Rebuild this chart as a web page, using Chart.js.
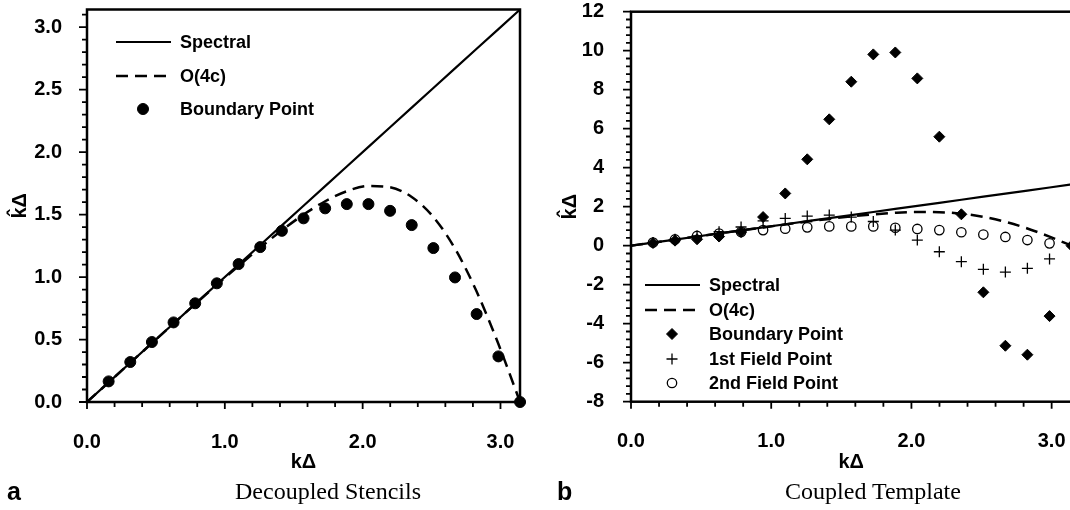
<!DOCTYPE html>
<html>
<head>
<meta charset="utf-8">
<script src="https://cdn.jsdelivr.net/npm/chart.js@4.4.0/dist/chart.umd.min.js"></script>
<style>
  body { margin: 0; width: 1070px; height: 510px; overflow: hidden; background: #fff; position: relative; }
  .wrap { position: absolute; top: 0; height: 510px; }
  #wrapA { left: 0; width: 540px; }
  #wrapB { left: 540px; width: 560px; }
  .tag { position: absolute; top: 479px; font: bold 25px "Liberation Sans", Arial, sans-serif; line-height: 24px; }
  .cap { position: absolute; top: 479px; width: 240px; text-align: center; font: 24px "Liberation Serif", "Times New Roman", serif; line-height: 24px; }
</style>
</head>
<body>
<div class="wrap" id="wrapA"><canvas id="chartA" width="540" height="510"></canvas></div>
<div class="wrap" id="wrapB"><canvas id="chartB" width="560" height="510"></canvas></div>
<div class="tag" style="left:7px">a</div>
<div class="cap" style="left:208px">Decoupled Stencils</div>
<div class="tag" style="left:557px">b</div>
<div class="cap" style="left:753px">Coupled Template</div>
<script>
// k*Delta sample points (x)
var kDelta = [0, 0.157, 0.314, 0.471, 0.628, 0.785, 0.942, 1.100, 1.257, 1.414, 1.571,
              1.728, 1.885, 2.042, 2.199, 2.356, 2.513, 2.670, 2.827, 2.985, 3.142];

var spectral = [0, 0.157, 0.314, 0.471, 0.628, 0.785, 0.942, 1.100, 1.257, 1.414, 1.571,
                1.728, 1.885, 2.042, 2.199, 2.356, 2.513, 2.670, 2.827, 2.985, 3.142];
var o4c = [0, 0.157, 0.314, 0.471, 0.628, 0.784, 0.938, 1.089, 1.236, 1.374, 1.500,
           1.607, 1.687, 1.729, 1.719, 1.641, 1.481, 1.228, 0.884, 0.464, 0];

// panel a
var boundaryA = [null, 0.165, 0.32, 0.48, 0.637, 0.79, 0.95, 1.104, 1.24, 1.37, 1.47,
                 1.55, 1.584, 1.584, 1.53, 1.416, 1.232, 0.997, 0.704, 0.365, 0];

// panel b
var boundaryB = [null, 0.14, 0.26, 0.33, 0.47, 0.7, 1.47, 2.68, 4.43, 6.48, 8.41,
                 9.81, 9.91, 8.58, 5.59, 1.61, -2.39, -5.13, -5.59, -3.61, 0];
var field1 = [null, 0.16, 0.33, 0.5, 0.72, 0.96, 1.27, 1.40, 1.52, 1.57, 1.47,
              1.24, 0.80, 0.29, -0.31, -0.82, -1.21, -1.35, -1.16, -0.68, null];
var field2 = [null, 0.16, 0.32, 0.50, 0.62, 0.70, 0.80, 0.87, 0.94, 0.99, 0.99,
              0.99, 0.92, 0.86, 0.80, 0.69, 0.57, 0.45, 0.29, 0.12, null];

var xTickLabels = ['0.0', '1.0', '2.0', '3.0'];
var yTickLabelsA = ['0.0', '0.5', '1.0', '1.5', '2.0', '2.5', '3.0'];
var yTickLabelsB = ['-8', '-6', '-4', '-2', '0', '2', '4', '6', '8', '10', '12'];

function pairs(ys) {
    var out = [];
    for (var i = 0; i < kDelta.length; i++) {
        if (ys[i] !== null) out.push({x: kDelta[i], y: ys[i]});
    }
    return out;
}

var SANS = '"Liberation Sans", "DejaVu Sans", Arial, sans-serif';

// frame + outward major/minor tick marks
const frameTicks = {
    id: 'frameTicks',
    beforeDatasetsDraw(chart, args, o) {
        const ctx = chart.ctx, a = chart.chartArea;
        const x = chart.scales.x, y = chart.scales.y;
        ctx.save();
        ctx.strokeStyle = '#000';
        ctx.lineWidth = 1.8;
        ctx.beginPath();
        for (let i = 0; x.min + i * o.xMinor <= x.max + 1e-6; i++) {
            const v = x.min + i * o.xMinor;
            const px = x.getPixelForValue(v);
            const r = v / o.xMajor;
            const len = Math.abs(r - Math.round(r)) < 1e-6 ? 7 : 5;
            ctx.moveTo(px, a.bottom);
            ctx.lineTo(px, a.bottom + len);
        }
        for (let i = 0; y.min + i * o.yMinor <= y.max + 1e-6; i++) {
            const v = y.min + i * o.yMinor;
            const py = y.getPixelForValue(v);
            const r = v / o.yMajor;
            const len = Math.abs(r - Math.round(r)) < 1e-6 ? 8 : 5;
            ctx.moveTo(a.left, py);
            ctx.lineTo(a.left - len, py);
        }
        ctx.stroke();
        ctx.lineWidth = 2.5;
        ctx.strokeRect(a.left, a.top, a.right - a.left, a.bottom - a.top);
        ctx.restore();
    }
};

// legend drawn inside the plot
const innerLegend = {
    id: 'innerLegend',
    afterDraw(chart, args, o) {
        const ctx = chart.ctx;
        ctx.save();
        ctx.font = 'bold 18px ' + SANS;
        ctx.textBaseline = 'middle';
        ctx.textAlign = 'left';
        chart.data.datasets.forEach(function (ds, i) {
            const yy = o.rows[i];
            ctx.strokeStyle = '#000';
            ctx.fillStyle = ds.pointBackgroundColor || '#000';
            if (ds.showLine) {
                ctx.lineWidth = ds.borderWidth;
                ctx.setLineDash(ds.borderDash || []);
                ctx.beginPath();
                ctx.moveTo(o.x1, yy);
                ctx.lineTo(o.x2, yy);
                ctx.stroke();
                ctx.setLineDash([]);
            } else {
                ctx.lineWidth = ds.borderWidth;
                Chart.helpers.drawPoint(ctx, {
                    pointStyle: ds.pointStyle, radius: ds.pointRadius,
                    rotation: 0, borderWidth: ds.borderWidth
                }, o.mx, yy);
            }
            ctx.fillStyle = '#000';
            ctx.fillText(ds.label, o.tx, yy + 1);
        });
        ctx.restore();
    }
};

function lineSet(label, ys, dashed) {
    return {
        label: label, data: pairs(ys), showLine: true, order: 2,
        borderColor: '#000', borderWidth: dashed ? 2.5 : 2.2,
        borderDash: dashed ? [12, 7] : [], pointRadius: 0,
        cubicInterpolationMode: dashed ? 'monotone' : 'default', clip: false
    };
}

function pointSet(label, ys, style, radius, filled, bw) {
    return {
        label: label, data: pairs(ys), showLine: false, order: 1,
        pointStyle: style, pointRadius: radius, pointHoverRadius: radius,
        pointBackgroundColor: filled ? '#000' : 'rgba(0,0,0,0)',
        pointBorderColor: '#000', borderColor: '#000', borderWidth: bw,
        pointBorderWidth: bw, clip: false
    };
}

function makeOptions(cfg) {
    return {
        responsive: false, animation: false, events: [],
        layout: {padding: {left: 0, right: cfg.padRight, top: cfg.padTop, bottom: 0}},
        plugins: {
            legend: {display: false}, tooltip: {enabled: false},
            frameTicks: cfg.ticks, innerLegend: cfg.legend
        },
        scales: {
            x: {
                type: 'linear', min: 0, max: Math.PI,
                grid: {display: false}, border: {display: false},
                afterFit: function (s) {
                    s.height = cfg.xHeight;
                    s.paddingLeft = 0; s.paddingRight = 0;
                },
                ticks: {
                    stepSize: 1, includeBounds: false, padding: 20, color: '#000',
                    font: {family: SANS, size: 20, weight: 'bold'},
                    callback: function (v) { return xTickLabels[Math.round(v)]; }
                },
                title: {
                    display: true, text: 'k\u0394', color: '#000',
                    font: {family: SANS, size: 20, weight: 'bold'},
                    padding: {top: 0, bottom: 36}
                }
            },
            y: {
                type: 'linear', min: cfg.yMin, max: cfg.yMax,
                grid: {display: false}, border: {display: false},
                afterFit: function (s) {
                    s.width = cfg.yWidth;
                    s.paddingTop = 0; s.paddingBottom = 0;
                },
                ticks: {
                    stepSize: cfg.yStep, includeBounds: false, padding: cfg.yPad, color: '#000',
                    font: {family: SANS, size: 20, weight: 'bold'},
                    callback: function (v) {
                        return cfg.yLabels[Math.round((v - cfg.yMin) / cfg.yStep)];
                    }
                },
                title: {
                    display: true, text: 'k\u0302\u0394', color: '#000',
                    font: {family: SANS, size: 20, weight: 'bold'},
                    padding: {top: cfg.yTitlePad, bottom: 0}
                }
            }
        }
    };
}

new Chart(document.getElementById('chartA'), {
    type: 'scatter',
    data: {
        datasets: [
            lineSet('Spectral', spectral, false),
            lineSet('O(4c)', o4c, true),
            pointSet('Boundary Point', boundaryA, 'circle', 5.5, true, 1)
        ]
    },
    options: makeOptions({
        padRight: 20, padTop: 9.5, xHeight: 108, yWidth: 87, yPad: 17, yTitlePad: 8,
        yMin: 0, yMax: Math.PI, yStep: 0.5, yLabels: yTickLabelsA,
        ticks: {xMinor: 0.2, xMajor: 1, yMinor: 0.1, yMajor: 0.5},
        legend: {x1: 116, x2: 171, mx: 143, tx: 180, rows: [42, 76, 109]}
    }),
    plugins: [frameTicks, innerLegend]
});

new Chart(document.getElementById('chartB'), {
    type: 'scatter',
    data: {
        datasets: [
            lineSet('Spectral', spectral, false),
            lineSet('O(4c)', o4c, true),
            pointSet('Boundary Point', boundaryB, 'rectRot', 5.5, true, 1),
            pointSet('1st Field Point', field1, 'cross', 5.5, false, 1.3),
            pointSet('2nd Field Point', field2, 'circle', 4.7, false, 1.3)
        ]
    },
    options: makeOptions({
        padRight: 28.5, padTop: 11.7, xHeight: 108.3, yWidth: 91, yPad: 19, yTitlePad: 18,
        yMin: -8, yMax: 12, yStep: 2, yLabels: yTickLabelsB,
        ticks: {xMinor: 0.2, xMajor: 1, yMinor: 0.4, yMajor: 2},
        legend: {x1: 105, x2: 160, mx: 132, tx: 169, rows: [285, 310, 334, 359, 383]}
    }),
    plugins: [frameTicks, innerLegend]
});
</script>
</body>
</html>
